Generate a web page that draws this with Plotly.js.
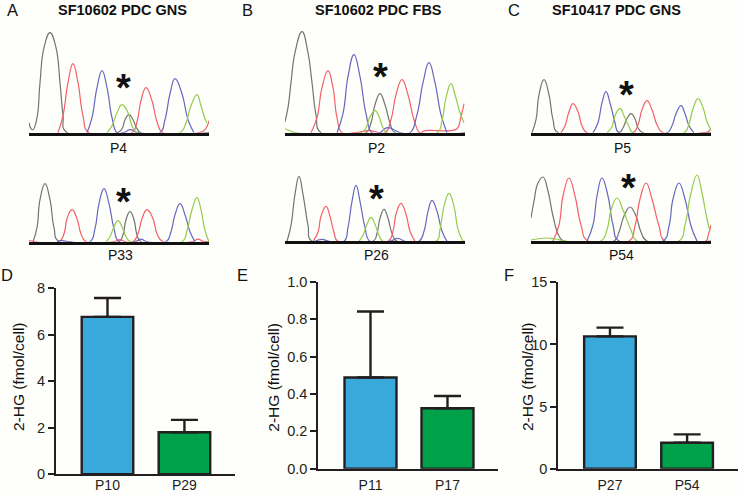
<!DOCTYPE html>
<html><head><meta charset="utf-8">
<script src="https://cdn.plot.ly/plotly-3.0.1.min.js"></script>
<style>html,body{margin:0;padding:0;background:#fefefb}#c{width:738px;height:493px}</style>
</head><body><div id="c"></div><script>
// Chromatogram signal: [scan position, signal height] per dye
const aTopGray=[[0,10],[2,4],[4,3],[8,15],[11,50],[15,85],[21,100],[27,85],[31,50],[34,18],[37,1],[88,0],[93,4],[96,13],[100,18],[104,13],[108,4],[112,0],[180,0]];
const aTopRed=[[29,0],[34,17],[39,50],[44,69],[49,50],[54,17],[60,0],[103,0],[108,11],[112,32],[117,45],[123,32],[128,11],[134,0],[170,0],[176,3],[180,12]];
const aTopBlue=[[58,0],[63,15],[68,45],[73,62],[78,45],[83,15],[88,0],[94,0],[97,1],[99,2.5],[101,3],[104,2.5],[106,1],[109,0],[131,0],[136,13],[141,39],[146,54],[153,39],[159,13],[165,0]];
const aTopGreen=[[78,0],[83,7],[88,20],[93,28],[99,20],[103,7],[108,0],[151,0],[157,10],[162,27],[168,38],[172,27],[176,14],[178,10]];
const aBotGray=[[4,0],[8,14],[11,42],[16,58],[21,42],[25,14],[30,0],[90,0],[94,7],[97,22],[101,30],[105,22],[108,7],[112,0],[180,0]];
const aBotRed=[[0,1],[30,0],[35,8],[38,23],[43,32],[48,23],[52,8],[57,0],[85,0],[91,2],[96,0],[104,0],[109,8],[113,23],[118,32],[124,23],[128,8],[134,0],[163,0],[169,2.5],[175,0],[180,0]];
const aBotBlue=[[28,0],[33,1],[40,0],[61,0],[66,13],[70,38],[75,53],[80,38],[85,13],[90,0],[106,0],[112,2.5],[118,0],[137,0],[142,10],[146,27],[151,38],[156,27],[161,10],[166,0]];
const aBotGreen=[[77,0],[81,5],[85,15],[89,21],[93,15],[97,5],[102,0],[153,0],[158,11],[163,32],[168,44],[172,32],[176,11],[180,0]];
const bTopGray=[[0,11],[3,25],[6,50],[10,80],[17,101],[23,80],[27,50],[31,18],[36,0],[81,0],[86,10],[90,28],[95,39],[100,28],[105,10],[110,0],[180,0]];
const bTopRed=[[26,0],[32,15],[37,45],[43,62],[48,45],[52,15],[57,0],[70,0],[85,2],[100,0],[106,13],[111,38],[117,53],[123,38],[129,13],[135,0],[140,2],[165,2],[172,4],[176,16],[179,29]];
const bTopBlue=[[52,0],[58,19],[63,56],[69,78],[75,56],[81,19],[87,0],[95,0],[99,3.5],[103,5],[108,3.5],[115,0],[125,0],[132,18],[138,50],[144,70],[150,50],[156,18],[162,0]];
const bTopGreen=[[0,4],[5,2],[10,0],[76,0],[81,5],[85,16],[90,22],[94,16],[98,5],[102,0],[152,0],[157,12],[161,35],[166,49],[170,38],[175,20],[179,10]];
const bBotGray=[[2,0],[6,16],[10,47],[14,65],[18,47],[23,16],[27,0],[88,0],[92,8],[95,23],[99,32],[103,23],[107,8],[112,0],[180,0]];
const bBotRed=[[28,0],[33,9],[36,25],[41,35],[45,25],[49,9],[53,0],[103,0],[108,10],[111,27],[116,38],[121,27],[125,10],[130,0]];
const bBotBlue=[[30,0],[37,2],[44,0],[59,0],[63,14],[67,40],[71,56],[75,40],[80,14],[85,0],[105,0],[113,3],[120,0],[134,0],[139,10],[143,30],[147,41],[152,30],[157,10],[162,0]];
const bBotGreen=[[74,0],[78,6],[82,17],[86,24],[90,17],[94,6],[98,0],[151,0],[155,12],[159,35],[164,48],[169,35],[173,12],[178,0]];
const cTopGray=[[1,0],[5,13],[8,38],[13,53],[18,38],[22,13],[27,0],[88,0],[92,5],[96,14],[100,19],[104,14],[107,5],[112,0],[180,0]];
const cTopRed=[[30,0],[34,7],[38,21],[42,29],[47,21],[51,7],[56,0],[102,0],[107,8],[111,23],[116,32],[121,23],[126,8],[132,0],[172,0],[177,1],[180,4]];
const cTopBlue=[[62,0],[67,10],[71,30],[75,41],[79,30],[84,10],[88,0],[136,0],[141,7],[145,19],[150,27],[154,19],[158,7],[163,0]];
const cTopGreen=[[76,0],[81,6],[84,17],[89,24],[93,17],[98,6],[102,0],[153,0],[158,9],[162,24],[167,34],[172,25],[176,11],[180,3]];
const cBotGray=[[0,23],[3,40],[7,58],[12,64],[17,50],[22,25],[28,5],[33,0],[83,0],[88,9],[93,25],[99,34],[105,25],[110,9],[116,0],[180,0]];
const cBotRed=[[22,0],[28,16],[32,45],[38,63],[44,45],[50,16],[57,0],[98,0],[104,15],[109,42],[115,58],[121,42],[128,15],[134,0],[175,0],[177,5],[180,16]];
const cBotBlue=[[56,0],[62,16],[66,45],[71,63],[77,45],[82,16],[88,0],[132,0],[138,15],[142,42],[148,58],[154,42],[160,15],[166,0]];
const cBotGreen=[[0,1],[15,3],[25,2],[34,0],[70,0],[76,11],[80,31],[86,43],[92,31],[100,11],[106,0],[148,0],[154,16],[160,48],[166,66],[171,48],[176,22],[179,10]];

// Bar charts
const dCats=["P10","P29"], dVals=[6.77,1.81], dErr=[0.81,0.53], dTicks=[0,2,4,6,8];
const eCats=["P11","P17"], eVals=[0.488,0.323], eErr=[0.353,0.066], eTicks=[0,0.2,0.4,0.6,0.8,1.0], eTickText=["0.0","0.2","0.4","0.6","0.8","1.0"];
const fCats=["P27","P54"], fVals=[10.65,2.09], fErr=[0.70,0.67], fTicks=[0,5,10,15];
const barColors=["#39a9dc","#00a14b"];
const yTitle="2-HG (fmol/cell)";
const dyeColors=["#737373","#f4606a","#6666c0","#93cc4a"];

const W=738,H=493,FONT='"Liberation Sans", Arial, sans-serif',INK="#231f20";
const data=[], layout={width:W,height:H,margin:{l:0,r:0,t:0,b:0},paper_bgcolor:"#fefefb",plot_bgcolor:"rgba(0,0,0,0)",showlegend:false,annotations:[],font:{family:FONT,color:INK}};
const dx=(a,b)=>[a/W,b/W], dy=(t,b)=>[1-b/H,1-t/H];
let n=0;
function chrom(left,base,top,dyes){
  n++; const xk="x"+n,yk="y"+n;
  dyes.forEach((d,i)=>data.push({type:"scatter",mode:"lines",x:d.map(p=>p[0]),y:d.map(p=>p[1]),xaxis:xk,yaxis:yk,hoverinfo:"skip",
    line:{color:dyeColors[i],width:1.2,shape:"spline",smoothing:1.3}}));
  layout["xaxis"+n]={domain:dx(left,left+180),range:[0,180],anchor:yk,showgrid:false,zeroline:false,showticklabels:false,ticks:"",showline:true,linecolor:"#111",linewidth:3};
  layout["yaxis"+n]={domain:dy(top,base),range:[0,base-top],anchor:xk,visible:false};
}
chrom(29,132.7,24,[aTopGray,aTopRed,aTopBlue,aTopGreen]);
chrom(29,241.7,165,[aBotGray,aBotRed,aBotBlue,aBotGreen]);
chrom(285,132.7,24,[bTopGray,bTopRed,bTopBlue,bTopGreen]);
chrom(285,241.3,165,[bBotGray,bBotRed,bBotBlue,bBotGreen]);
chrom(531,132.7,24,[cTopGray,cTopRed,cTopBlue,cTopGreen]);
chrom(531,241,165,[cBotGray,cBotRed,cBotBlue,cBotGreen]);

function bars(o){
  n++; const xk="x"+n,yk="y"+n;
  data.push({type:"bar",x:[0,1],y:o.vals,width:[o.barW,o.barW],xaxis:xk,yaxis:yk,hoverinfo:"skip",
    marker:{color:barColors,line:{color:INK,width:2.4}},
    error_y:{type:"data",array:o.err,symmetric:false,arrayminus:[0,0],color:INK,thickness:2.4,width:13.5}});
  layout["xaxis"+n]={domain:dx(o.left,o.right),range:o.xr,anchor:yk,tickmode:"array",tickvals:[0,1],ticktext:o.cats,ticks:"",showgrid:false,zeroline:false,
    showline:true,linecolor:INK,linewidth:2,tickfont:{size:14,family:FONT,color:INK},ticklabelstandoff:o.so};
  layout["yaxis"+n]={domain:dy(o.top,o.base),range:o.yr,anchor:xk,tickmode:"array",tickvals:o.ticks,ticktext:o.tickText||o.ticks.map(String),ticks:"outside",ticklen:6,tickwidth:2,tickcolor:INK,
    showgrid:false,zeroline:false,showline:true,linecolor:INK,linewidth:2,tickfont:{size:14.5,family:FONT,color:INK}};
  text(yTitle,o.titleX,377,15.5,false,-90);
}
function text(t,x,y,size,bold,rot){
  layout.annotations.push({text:bold?"<b>"+t+"</b>":t,xref:"paper",yref:"paper",x:x/W,y:1-y/H,xanchor:"center",yanchor:"middle",showarrow:false,textangle:rot||0,
    font:{size:size,family:FONT,color:"#111"}});
}
bars({cats:dCats,vals:dVals,err:dErr,ticks:dTicks,yr:[0,8],left:56,right:235,top:288.3,base:474.3,xr:[-0.669,1.657],barW:0.67,titleX:18,so:-3});
bars({cats:eCats,vals:eVals,err:eErr,ticks:eTicks,tickText:eTickText,yr:[0,1],left:318.3,right:498,top:281.7,base:468.7,xr:[-0.678,1.656],barW:0.675,titleX:272.7,so:2});
bars({cats:fCats,vals:fVals,err:fErr,ticks:fTicks,yr:[0,15],left:558.3,right:738,top:282.3,base:468.7,xr:[-0.67,1.66],barW:0.67,titleX:527,so:2});

[["A",12,10],["B",247,10],["C",514,10],["D",7,275],["E",242,275],["F",509,275]].forEach(a=>text(a[0],a[1],a[2],16.5));
[["SF10602 PDC GNS",122],["SF10602 PDC FBS",378],["SF10417 PDC GNS",616]].forEach(a=>text(a[0],a[1],10,14.5,true));
[["P4",119,148],["P33",120,255],["P2",376,148],["P26",376,255],["P5",622,148],["P54",621,255]].forEach(a=>text(a[0],a[1],a[2],14));
[[123,83],[123,197],[380,72],[376,194],[626,90],[628,183]].forEach(a=>text("*",a[0],a[1]+5,38,true));

Plotly.newPlot("c",data,layout,{displayModeBar:false,responsive:false});
</script></body></html>
